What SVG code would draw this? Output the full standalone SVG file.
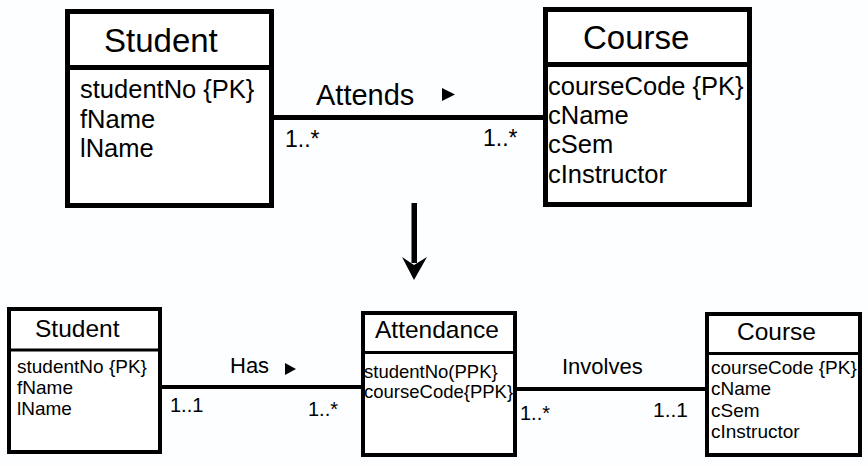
<svg xmlns="http://www.w3.org/2000/svg" width="868" height="467" viewBox="0 0 868 467">
<style>
.box{fill:#fff;stroke:#000}
.big{stroke-width:5}
.small{stroke-width:4}
.t{font-family:"Liberation Sans",Arial,sans-serif;fill:#000}
.title1{font-size:33px}
.attr1{font-size:25.5px}
.title2{font-size:24.5px}
.attr2{font-size:19px}
.lbl{font-size:22px}
.mult{font-size:20px}
.conn{stroke:#000;fill:none}
</style>
<rect width="868" height="467" fill="#fcfeff"/>
<g id="student-top">
<rect class="box big" x="67.5" y="11.5" width="204" height="194"/>
<line x1="67.5" y1="67.5" x2="271.5" y2="67.5" stroke="#000" stroke-width="5"/>
<text class="t title1" x="104" y="52">Student</text>
<text class="t attr1" x="80" y="98">studentNo {PK}</text>
<text class="t attr1" x="80" y="128">fName</text>
<text class="t attr1" x="80" y="157">lName</text>
</g>
<g id="course-top">
<rect class="box big" x="545.5" y="9.5" width="204" height="195"/>
<line x1="545.5" y1="64.5" x2="749.5" y2="64.5" stroke="#000" stroke-width="5"/>
<text class="t title1" x="583" y="49">Course</text>
<text class="t attr1" x="548" y="95">courseCode {PK}</text>
<text class="t attr1" x="548" y="124">cName</text>
<text class="t attr1" x="548" y="153">cSem</text>
<text class="t attr1" x="548" y="183">cInstructor</text>
</g>
<g id="student-bottom">
<rect class="box small" x="9" y="309" width="151" height="143"/>
<line x1="9" y1="350" x2="160" y2="350" stroke="#000" stroke-width="3"/>
<text class="t title2" x="35" y="337">Student</text>
<text class="t attr2" x="17" y="373">studentNo {PK}</text>
<text class="t attr2" x="17" y="394">fName</text>
<text class="t attr2" x="17" y="415">lName</text>
</g>
<g id="attendance">
<rect class="box small" x="363" y="313" width="152" height="142"/>
<line x1="363" y1="352.5" x2="515" y2="352.5" stroke="#000" stroke-width="3"/>
<text class="t title2" x="375" y="338">Attendance</text>
<text class="t attr2" x="364" y="378" style="font-size:18.5px">studentNo(PPK}</text>
<text class="t attr2" x="364" y="398" style="font-size:18.5px">courseCode{PPK}</text>
</g>
<g id="course-bottom">
<rect class="box small" x="707" y="314" width="153" height="141"/>
<line x1="707" y1="353.5" x2="860" y2="353.5" stroke="#000" stroke-width="3"/>
<text class="t title2" x="737" y="340">Course</text>
<text class="t attr2" x="711" y="374">courseCode {PK}</text>
<text class="t attr2" x="711" y="395">cName</text>
<text class="t attr2" x="711" y="417">cSem</text>
<text class="t attr2" x="711" y="438">cInstructor</text>
</g>
<g id="connectors">
<line class="conn" x1="274" y1="117.5" x2="543" y2="117.5" stroke-width="5"/>
<text class="t" x="316" y="105" style="font-size:29px">Attends</text>
<polygon points="442,88 442,101 455,94.5" fill="#000"/>
<text class="t" x="285" y="147" style="font-size:23px">1..*</text>
<text class="t" x="483" y="146" style="font-size:23px">1..*</text>
<rect x="411.5" y="203" width="5.5" height="60" fill="#000"/>
<polygon points="402,257 414,265 427,257 414,280" fill="#000"/>
<line class="conn" x1="162" y1="387" x2="361" y2="387" stroke-width="4"/>
<text class="t lbl" x="230" y="373">Has</text>
<polygon points="285,363 285,375 296,369" fill="#000"/>
<text class="t mult" x="170" y="412">1..1</text>
<text class="t mult" x="308" y="416">1..*</text>
<line class="conn" x1="517" y1="389" x2="705" y2="389" stroke-width="4"/>
<text class="t lbl" x="562" y="374">Involves</text>
<text class="t mult" x="520" y="420">1..*</text>
<text class="t mult" x="653" y="417" style="font-size:21px">1..1</text>
</g>
</svg>
